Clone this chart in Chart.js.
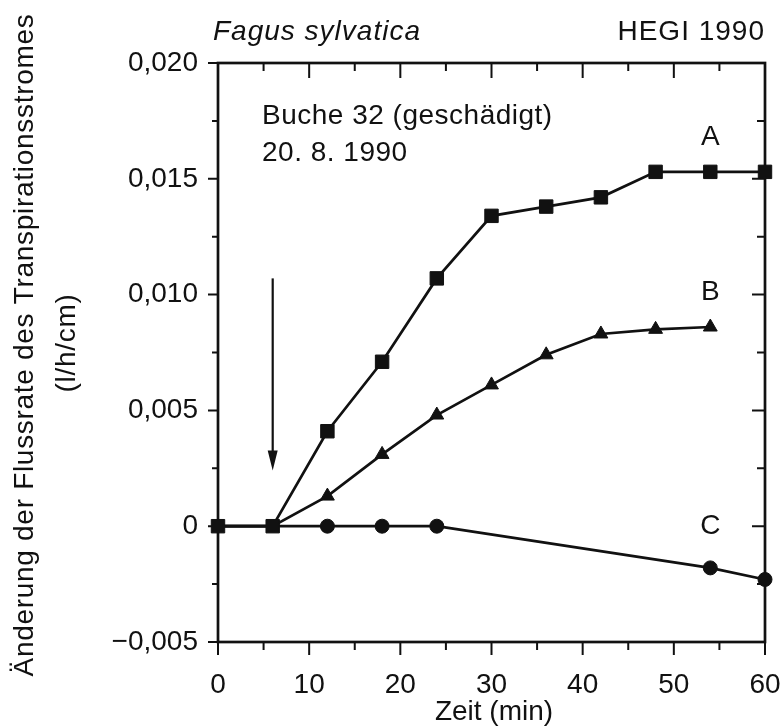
<!DOCTYPE html>
<html>
<head>
<meta charset="utf-8">
<script src="https://cdn.jsdelivr.net/npm/chart.js@4"></script>
<style>
  html, body { margin: 0; padding: 0; background: #fff; }
  #wrap { width: 781px; height: 727px; position: relative; }
</style>
</head>
<body>
<div id="wrap"><canvas id="chart"></canvas></div>
<script>
// ----- data -----
const timesA = [0, 6, 12, 18, 24, 30, 36, 42, 48, 54, 60]
const seriesA = [0, 0, 0.0041, 0.0071, 0.0107, 0.0134, 0.0138, 0.0142, 0.0153, 0.0153, 0.0153]

const timesB = [0, 6, 12, 18, 24, 30, 36, 42, 48, 54]
const seriesB = [0, 0, 0.0013, 0.0031, 0.0048, 0.0061, 0.0074, 0.0083, 0.0085, 0.0086]

const timesC = [0, 6, 12, 18, 24, 54, 60]
const seriesC = [0, 0, 0, 0, 0, -0.0018, -0.0023]

const xTickValues = [0, 10, 20, 30, 40, 50, 60]
const yTickValues = [-0.005, 0, 0.005, 0.010, 0.015, 0.020]
const yTickLabels = ['\u22120,005', '0', '0,005', '0,010', '0,015', '0,020']

const curveNames = ['A', 'B', 'C']
const curveLabelTime = [54, 54, 54]
const curveLabelValue = [0.0168, 0.0101, 0.0000]

// arrow marks the treatment time
const arrowTime = 6
const arrowFrom = 0.0107
const arrowTo = 0.0024

const INK = '#111'
const FONT = '"Liberation Sans", Arial, Helvetica, sans-serif'

const pts = (xs, ys) => xs.map((x, i) => ({ x, y: ys[i] }))

// ----- frame, ticks, arrow and text -----
const decor = {
  id: 'decor',
  beforeDatasetsDraw(chart) {
    const { ctx, chartArea: a, scales: { x, y } } = chart
    ctx.save()
    ctx.strokeStyle = INK
    ctx.lineWidth = 2.7
    ctx.strokeRect(a.left, a.top, a.right - a.left, a.bottom - a.top)

    ctx.lineWidth = 2
    ctx.beginPath()
    // x ticks every 5 min, long on the tens
    for (let t = 0; t <= 60; t += 5) {
      const px = x.getPixelForValue(t)
      const major = xTickValues.includes(t)
      ctx.moveTo(px, a.bottom); ctx.lineTo(px, a.bottom + (major ? 13 : 8))
      ctx.moveTo(px, a.top); ctx.lineTo(px, a.top + (major ? 15 : 8))
    }
    // y ticks every 0.0025
    for (let i = 0; i <= 10; i++) {
      const py = y.getPixelForValue(-0.005 + i * 0.0025)
      const major = i % 2 === 0
      ctx.moveTo(a.left, py); ctx.lineTo(a.left - (major ? 10 : 6), py)
      ctx.moveTo(a.right, py); ctx.lineTo(a.right - (major ? 13 : 8), py)
    }
    ctx.stroke()

    // arrow
    const ax = x.getPixelForValue(arrowTime)
    const ay1 = y.getPixelForValue(arrowFrom)
    const ay2 = y.getPixelForValue(arrowTo)
    ctx.lineWidth = 2.2
    ctx.beginPath()
    ctx.moveTo(ax, ay1); ctx.lineTo(ax, ay2 - 14)
    ctx.stroke()
    ctx.fillStyle = INK
    ctx.beginPath()
    ctx.moveTo(ax, ay2)
    ctx.lineTo(ax - 5, ay2 - 20)
    ctx.lineTo(ax + 5, ay2 - 20)
    ctx.closePath()
    ctx.fill()
    ctx.restore()
  },
  afterDraw(chart) {
    const { ctx, scales: { x, y } } = chart
    ctx.save()
    ctx.fillStyle = INK
    ctx.textBaseline = 'middle'

    ctx.letterSpacing = '1px'
    ctx.font = 'italic 28px ' + FONT
    ctx.textAlign = 'center'
    ctx.fillText('Fagus sylvatica', 317, 32)
    ctx.font = '28px ' + FONT
    ctx.textAlign = 'right'
    ctx.fillText('HEGI 1990', 765, 32)

    ctx.letterSpacing = '0.5px'
    ctx.textAlign = 'left'
    ctx.fillText('Buche 32 (geschädigt)', 262, 116)
    ctx.fillText('20. 8. 1990', 262, 153)

    ctx.letterSpacing = '0px'
    ctx.textAlign = 'center'
    curveNames.forEach((n, i) => {
      ctx.fillText(n, x.getPixelForValue(curveLabelTime[i]), y.getPixelForValue(curveLabelValue[i]))
    })

    ctx.fillText('Zeit (min)', 494, 712)

    ctx.letterSpacing = '0.7px'
    ctx.translate(25, 345)
    ctx.rotate(-Math.PI / 2)
    ctx.fillText('Änderung der Flussrate des Transpirationsstromes', 0, 0)
    ctx.fillText('(l/h/cm)', 2, 42)
    ctx.restore()
  },
}

const ds = (label, data, style, radius, order) => ({
  label,
  data,
  order,
  borderColor: INK,
  borderWidth: 2.7,
  backgroundColor: INK,
  pointStyle: style,
  pointRadius: radius,
  pointBorderWidth: 1,
  pointBorderColor: INK,
  pointBackgroundColor: INK,
  tension: 0,
  clip: false,
})

new Chart(document.getElementById('chart'), {
  type: 'line',
  data: {
    datasets: [
      ds('A', pts(timesA, seriesA), 'rect', 9.5, 0),
      ds('B', pts(timesB, seriesB), 'triangle', [0, 0, 8, 8, 8, 8, 8, 8, 8, 8], 1),
      ds('C', pts(timesC, seriesC), 'circle', [0, 0, 7, 7, 7, 7, 7], 2),
    ],
  },
  options: {
    responsive: true,
    maintainAspectRatio: false,
    animation: false,
    layout: { padding: { left: 0, top: 63, right: 16, bottom: 0 } },
    plugins: { legend: { display: false }, tooltip: { enabled: false } },
    scales: {
      x: {
        type: 'linear',
        min: 0,
        max: 60,
        grid: { display: false, drawTicks: false },
        border: { display: false },
        afterFit: (s) => {
          s.height = 85
          s.paddingLeft = 0
          s.paddingRight = 0
        },
        ticks: {
          stepSize: 10,
          padding: 26,
          color: INK,
          font: { family: FONT, size: 28 },
          callback: (v) => (xTickValues.includes(v) ? String(v) : ''),
        },
      },
      y: {
        min: -0.005,
        max: 0.020,
        grid: { display: false, drawTicks: false },
        border: { display: false },
        afterFit: (s) => {
          s.width = 218
          s.paddingTop = 0
          s.paddingBottom = 0
        },
        ticks: {
          stepSize: 0.005,
          autoSkip: false,
          padding: 20,
          color: INK,
          font: { family: FONT, size: 28 },
          callback: (v) => {
            const i = yTickValues.findIndex((t) => Math.abs(t - v) < 1e-9)
            return i >= 0 ? yTickLabels[i] : ''
          },
        },
      },
    },
  },
  plugins: [decor],
})
</script>
</body>
</html>
